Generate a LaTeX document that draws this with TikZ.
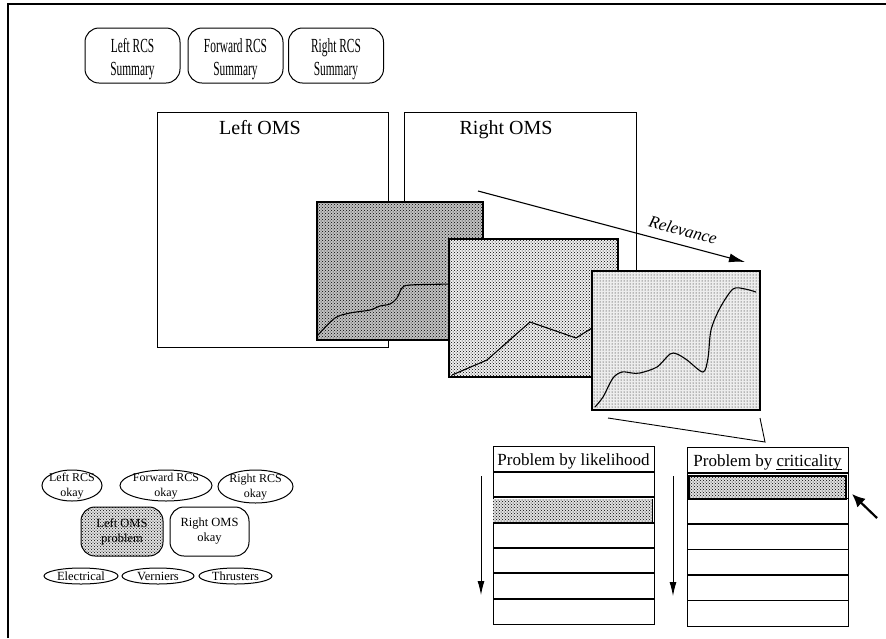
\documentclass[tikz,border=0pt]{standalone}
\usepackage{fontspec}
\setmainfont{Liberation Serif}
\usepackage{graphicx}
\usetikzlibrary{arrows.meta,shapes.geometric,patterns}

\newcommand*{\sumtext}[1]{\smash{\makebox[0pt]{\raisebox{-9pt}{\scalebox{0.57}[1]{\begin{tabular}{@{}c@{}}#1\end{tabular}}}}}}
\newcommand*{\ovaltext}[2][-3.5pt]{\smash{\makebox[0pt]{\raisebox{#1}{\begin{tabular}{@{}c@{}}#2\end{tabular}}}}}
\newcommand*{\uword}[1]{\vtop{\hbox{#1}\kern-0.4pt\hrule height 0.8pt}}
\newcommand*{\rowh}{25.33}

\begin{document}
\begin{tikzpicture}
[
	x=1pt, y=-1pt,
	summary/.style={draw,rounded corners=14pt,line width=1pt,minimum width=95pt,minimum height=55pt,inner sep=0pt,font=\fontsize{20}{23}\selectfont},
	omsbox/.style={draw,fill=white,line width=0.9pt,inner sep=0pt},
	chart/.style={draw,line width=1.1pt,inner sep=0pt,minimum width=168pt,minimum height=138pt},
	plotline/.style={line width=1.1pt,line join=round},
	shade/.style={preaction={fill=black!12},pattern=crosshatch dots},
	okay/.style={draw,ellipse,line width=1pt,inner sep=0pt,minimum height=31pt,font=\fontsize{12}{14.5}\selectfont},
	subsys/.style={draw,ellipse,line width=1pt,inner sep=0pt,minimum height=16pt,font=\fontsize{12.5}{15}\selectfont},
	status/.style={draw,rounded corners=14pt,line width=1pt,minimum width=80pt,minimum height=49pt,inner sep=0pt,align=center,font=\fontsize{12.5}{15}\selectfont},
	listbox/.style={draw,line width=0.8pt,minimum width=161pt,inner sep=0pt},
	rowline/.style={line width=1.8pt},
	heading/.style={font=\fontsize{17}{20}\selectfont,inner sep=0pt,anchor=base},
	downarrow/.style={line width=0.9pt,-{Latex[length=14pt,width=7pt]}}
]
	\useasboundingbox (0,0) rectangle (886,638);

	% frame
	\draw[line width=1.2pt] (8,638) -- (8,4) -- (886,4);

	% summaries
	\node[summary] (leftSum) at (132.5,55.5) {\sumtext{Left RCS\\Summary}};
	\node[summary] (fwdSum) at (235.5,55.5) {\sumtext{Forward RCS\\Summary}};
	\node[summary] (rightSum) at (336,55.5) {\sumtext{Right RCS\\Summary}};

	% OMS windows
	\node[omsbox,minimum width=231pt,minimum height=235pt] (leftOMS) at (272.5,229.5) {};
	\node[omsbox,minimum width=232pt,minimum height=218pt] (rightOMS) at (520,221) {};
	\node[font=\fontsize{20}{24}\selectfont,inner sep=0pt,anchor=base] (leftLbl) at (260,134) {Left OMS};
	\node[font=\fontsize{20}{24}\selectfont,inner sep=0pt,anchor=base] (rightLbl) at (506,134) {Right OMS};

	% relevance
	\coordinate (relStart) at (478,191);
	\coordinate (relEnd) at (745,262);
	\draw[line width=1.1pt,-{Latex[length=16pt,width=9pt]}] (relStart) -- (relEnd);
	\node[rotate=-15,font=\fontsize{17}{20}\selectfont\itshape] (relLabel) at (683,230) {Relevance};

	% charts
	\node[chart,preaction={fill=black!24},pattern=crosshatch dots,minimum width=166pt] (chartA) at (400,271) {};
	\draw[plotline] plot[smooth,tension=0.5] coordinates {(318,335) (335,318) (350,313) (370,310) (380,306) (390,304) (397,298) (402,288) (410,285) (450,284) (470,283)};

	\node[chart,preaction={fill=black!6},pattern=crosshatch dots,minimum width=169pt] (chartB) at (533.5,308) {};
	\draw[plotline] (452,375) -- (487,360) -- (530,322) -- (576,338) -- (592,328) -- (600,322);

	\node[chart,preaction={fill=black!7},pattern=dots,minimum height=139pt] (chartC) at (676,340.5) {};
	\draw[plotline] plot[smooth,tension=0.5] coordinates {(595,407) (603,397) (613,378) (622,372) (632,373) (640,373) (657,367) (670,354) (677,354) (687,360) (703,372) (708,358) (711,330) (720,308) (733,289) (745,289) (756,292)};

	% zoom lines to list
	\coordinate (zoomL) at (608,418);
	\coordinate (zoomR) at (760,418);
	\coordinate (zoomTip) at (765,442);
	\draw[line width=0.9pt] (zoomL) -- (zoomTip) -- (zoomR);

	% likelihood list
	\node[listbox,minimum height=178pt] (likelyList) at (573.5,535) {};
	\fill[shade] (493,499) rectangle (652,522);
	\draw[line width=0.6pt] (652,499) -- (652,522);
	\foreach \i in {0,...,5}
		\draw[rowline] (493,{472+\i*\rowh}) -- (654,{472+\i*\rowh});
	\node[heading] (likelyHead) at (573.5,465) {Problem by likelihood};
	\coordinate (likelyTop) at (481,476);
	\coordinate (likelyBot) at (481,595);
	\draw[downarrow] (likelyTop) -- (likelyBot);

	% criticality list
	\node[listbox,minimum height=179pt] (critList) at (767.5,536.5) {};
	\foreach \i in {0,...,5}
		\draw[rowline] (687,{473+\i*25.5}) -- (848,{473+\i*25.5});
	\node[draw,line width=1.8pt,shade,minimum width=157pt,minimum height=23pt,inner sep=0pt] (critSel) at (767.5,487.5) {};
	\node[heading] (critHead) at (767.5,466) {Problem by \uword{criticality}};
	\coordinate (critTop) at (673,476);
	\coordinate (critBot) at (673,596);
	\draw[downarrow] (critTop) -- (critBot);

	% pointer
	\coordinate (ptrTail) at (877,518);
	\coordinate (ptrTip) at (852,494);
	\draw[line width=2.2pt,-{Latex[length=13pt,width=12pt]}] (ptrTail) -- (ptrTip);

	% status overview
	\node[okay,minimum width=60pt] (lrcsOk) at (72,485.5) {\ovaltext{Left RCS\\okay}};
	\node[okay,minimum width=92pt] (frcsOk) at (166,485.5) {\ovaltext{Forward RCS\\okay}};
	\node[okay,minimum width=75pt,minimum height=33pt] (rrcsOk) at (255.5,486.5) {\ovaltext{Right RCS\\okay}};
	\node[status,shade,minimum width=82pt] (lomsProb) at (122,531.5) {Left OMS\\problem};
	\node[status,minimum width=79pt] (romsOk) at (209.5,531.5) {Right OMS\\okay};
	\node[subsys,minimum width=74pt] (elec) at (81,576) {\ovaltext[-4pt]{Electrical}};
	\node[subsys,minimum width=72pt] (vern) at (158,576) {\ovaltext[-4pt]{Verniers}};
	\node[subsys,minimum width=73pt] (thrust) at (235.5,576) {\ovaltext[-4pt]{Thrusters}};

\end{tikzpicture}
\end{document}
